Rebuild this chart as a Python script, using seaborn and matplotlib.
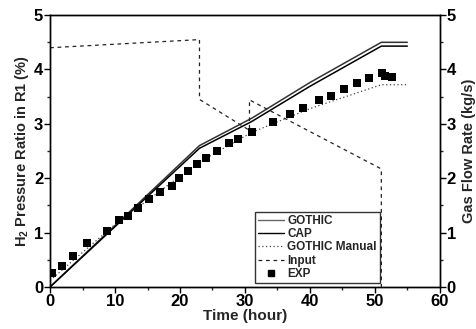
import matplotlib
matplotlib.use("Agg")
import matplotlib.pyplot as plt
import seaborn as sns
import pandas as pd
from matplotlib.ticker import MultipleLocator
from matplotlib.lines import Line2D

sns.set_theme(style="ticks")
plt.rcParams['font.family'] = ['Liberation Sans', 'DejaVu Sans']
plt.rcParams['font.weight'] = 'bold'
plt.rcParams['mathtext.default'] = 'bf'
plt.rcParams['mathtext.fontset'] = 'custom'
plt.rcParams['mathtext.bf'] = 'Liberation Sans:bold'

# Data
gothic_t = [0, 23, 31, 40, 51, 55]
gothic_y = [0, 2.60, 3.10, 3.76, 4.50, 4.50]
cap_t = [0, 23, 31, 40, 51, 55]
cap_y = [0, 2.55, 3.04, 3.69, 4.43, 4.43]
manual_t = [0, 10, 23, 31, 40, 51, 55]
manual_y = [0.12, 1.15, 2.30, 2.84, 3.28, 3.72, 3.72]
input_t = [0, 23, 23, 30.7, 30.7, 51, 51]
input_y = [4.40, 4.55, 3.45, 2.88, 3.44, 2.17, 0]
exp_t = [0.26, 1.8, 3.6, 5.7, 8.7, 10.6, 12.0, 13.6, 15.2, 16.9, 18.7, 19.9, 21.3, 22.6,
         24.0, 25.7, 27.5, 28.9, 31.1, 34.3, 37.0, 39.0, 41.4, 43.2, 45.3, 47.2, 49.1,
         51.1, 51.6, 52.6]
exp_y = [0.25, 0.39, 0.57, 0.81, 1.03, 1.23, 1.31, 1.45, 1.61, 1.74, 1.86, 2.01, 2.14, 2.27,
         2.38, 2.50, 2.64, 2.73, 2.85, 3.03, 3.18, 3.30, 3.44, 3.52, 3.65, 3.76, 3.85,
         3.93, 3.88, 3.87]

fig = plt.figure(figsize=(4.77, 3.29), dpi=100)
ax = fig.add_axes([0.105, 0.128, 0.817, 0.826])

sns.lineplot(x=gothic_t, y=gothic_y, ax=ax, color='#333333', lw=1.1, sort=False, estimator=None)
sns.lineplot(x=cap_t, y=cap_y, ax=ax, color='black', lw=1.1, sort=False, estimator=None)
sns.lineplot(x=manual_t, y=manual_y, ax=ax, color='#444444', lw=0.9, linestyle=(0, (1, 2)), sort=False, estimator=None)
sns.scatterplot(x=exp_t, y=exp_y, ax=ax, marker='s', color='black', s=28, edgecolor='black', linewidth=0, zorder=5)

ax2 = ax.twinx()
sns.lineplot(x=input_t, y=input_y, ax=ax2, color='#222222', lw=0.9, linestyle=(0, (3, 3)), sort=False, estimator=None)

for a in (ax, ax2):
    a.set_ylim(0, 5)
    a.set_xlim(0, 60)
    a.yaxis.set_major_locator(MultipleLocator(1))
    a.yaxis.set_minor_locator(MultipleLocator(0.5))
    for s in a.spines.values():
        s.set_linewidth(1.0)
        s.set_color('black')
ax.xaxis.set_major_locator(MultipleLocator(10))
ax.xaxis.set_minor_locator(MultipleLocator(5))
ax.tick_params(axis='both', which='major', direction='out', length=4, width=1, labelsize=12, pad=1, colors='black')
ax.tick_params(axis='both', which='minor', direction='out', length=2.5, width=1)
ax2.tick_params(axis='y', which='major', direction='out', length=4, width=1, labelsize=12, pad=1, colors='black')
ax2.tick_params(axis='y', which='minor', direction='out', length=2.5, width=1)
for lab in ax.get_xticklabels() + ax.get_yticklabels() + ax2.get_yticklabels():
    lab.set_fontweight('bold')

ax.set_xlabel('Time (hour)', fontsize=11, fontweight='bold', labelpad=0)
ax.set_ylabel(r'H$_\mathbf{2}$ Pressure Ratio in R1 (%)', fontsize=10.5, fontweight='bold', labelpad=2)
ax2.set_ylabel('Gas Flow Rate (kg/s)', fontsize=10.5, fontweight='bold', labelpad=4)

handles = [
    Line2D([], [], color='#666666', lw=1.0),
    Line2D([], [], color='black', lw=1.0),
    Line2D([], [], color='#444444', lw=0.9, linestyle=(0, (1, 2))),
    Line2D([], [], color='#222222', lw=0.9, linestyle=(0, (3, 3))),
    Line2D([], [], color='black', marker='s', linestyle='none', markersize=5),
]
labels = ['GOTHIC', 'CAP', 'GOTHIC Manual', 'Input', 'EXP']
leg = ax2.legend(handles, labels, loc='lower left', bbox_to_anchor=(0.525, 0.015),
                 frameon=True, fancybox=False, edgecolor='black',
                 prop={'weight': 'bold', 'size': 8.5}, handlelength=2.2, handletextpad=0.3,
                 labelspacing=0.1, borderpad=0.25, borderaxespad=0)
leg.get_frame().set_linewidth(1.0)

fig.savefig('out.png', dpi=100)
